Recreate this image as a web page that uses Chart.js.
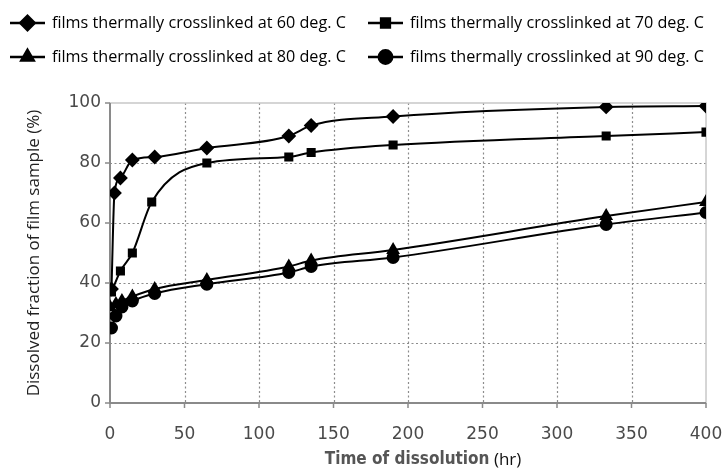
<!DOCTYPE html>
<html><head><meta charset="utf-8">
<script src="https://cdn.jsdelivr.net/npm/chart.js@4/dist/chart.umd.min.js"></script>
<style>html,body{margin:0;padding:0;background:#fff}#wrap{width:726px;height:475px;position:relative}</style>
</head><body><div id="wrap"><canvas id="c" width="726" height="475"></canvas></div>
<script>
const seriesLabels = ["films thermally crosslinked at 60 deg. C","films thermally crosslinked at 70 deg. C","films thermally crosslinked at 80 deg. C","films thermally crosslinked at 90 deg. C"];
const x60 = [1, 3, 7, 15, 30, 65, 120, 135, 190, 333, 400];
const y60 = [38, 70, 75, 81, 82, 85, 89, 92.5, 95.5, 98.7, 99];
const x70 = [1, 7, 15, 28, 65, 120, 135, 190, 333, 400];
const y70 = [37, 44, 50, 67, 80, 82, 83.5, 86, 89, 90.3];
const x80 = [0, 4, 8, 15, 30, 65, 120, 135, 190, 333, 400];
const y80 = [32, 33, 34, 35.5, 38, 41, 45.5, 47.5, 51, 62.3, 67];
const x90 = [1, 4, 8, 15, 30, 65, 120, 135, 190, 333, 400];
const y90 = [25, 29, 32, 34, 36.5, 39.6, 43.5, 45.5, 48.5, 59.5, 63.5];
const xTicks = [0,50,100,150,200,250,300,350,400];
const yTicks = [0,20,40,60,80,100];
const xTitleMain = 'Time of dissolution';
const xTitleUnit = ' (hr)';
const yTitle = 'Dissolved fraction of film sample (%)';
const markers = ['rectRot','rect','triangle','circle'];
const radii = [6,5,6,5.5];

const pts = (xs, ys) => xs.map((x,i)=>({x, y: ys[i]}));
const data = [pts(x60,y60), pts(x70,y70), pts(x80,y80), pts(x90,y90)];

const FONT = "'Open Sans', sans-serif";
const TICKFONT = "'DejaVu Sans', sans-serif";
const BOLDCOND = "bold 17px 'DejaVu Sans Condensed', 'DejaVu Sans', sans-serif";

const framePlugin = {
  id: 'frame',
  beforeDatasetsDraw(chart) {
    const {ctx, chartArea: a, scales} = chart;
    ctx.save();
    ctx.strokeStyle = '#8c8c8c'; ctx.lineWidth = 1.2; ctx.setLineDash([2,2.5]);
    xTicks.forEach(v => { if (v===0||v===400) return; const p = Math.round(scales.x.getPixelForValue(v))+0.5; ctx.beginPath(); ctx.moveTo(p,a.top); ctx.lineTo(p,a.bottom); ctx.stroke(); });
    yTicks.forEach(v => { if (v===0||v===100) return; const p = Math.round(scales.y.getPixelForValue(v))+0.5; ctx.beginPath(); ctx.moveTo(a.left,p); ctx.lineTo(a.right,p); ctx.stroke(); });
    ctx.setLineDash([]);
    ctx.strokeStyle = '#c8c8c8'; ctx.lineWidth = 1.5;
    ctx.strokeRect(a.left, a.top, a.right-a.left, a.bottom-a.top);
    ctx.strokeStyle = '#8a8a8a'; ctx.lineWidth = 2;
    ctx.beginPath(); ctx.moveTo(a.left, a.top); ctx.lineTo(a.left, a.bottom); ctx.lineTo(a.right, a.bottom); ctx.stroke();
    ctx.lineWidth = 1.5;
    xTicks.forEach(v => { const p = scales.x.getPixelForValue(v); ctx.beginPath(); ctx.moveTo(p,a.bottom); ctx.lineTo(p,a.bottom+5); ctx.stroke(); });
    yTicks.forEach(v => { const p = scales.y.getPixelForValue(v); ctx.beginPath(); ctx.moveTo(a.left-5,p); ctx.lineTo(a.left,p); ctx.stroke(); });
    ctx.restore();
  },
  afterDraw(chart) {
    const {ctx, chartArea: a} = chart;
    ctx.save();
    const pos = [[10,23],[368,23],[10,57],[368,57]];
    chart.data.datasets.forEach((ds,i) => {
      const [x0,y0] = pos[i];
      ctx.strokeStyle = '#000'; ctx.lineWidth = 2.5;
      ctx.beginPath(); ctx.moveTo(x0,y0); ctx.lineTo(x0+35,y0); ctx.stroke();
      ctx.fillStyle = '#000';
      Chart.helpers.drawPoint(ctx, {pointStyle: markers[i], radius: radii[i]+1.2, borderWidth: 1}, x0+17.5, y0);
      ctx.fillStyle = '#000';
      ctx.font = "16.2px " + FONT;
      ctx.textBaseline = 'middle'; ctx.textAlign = 'left';
      ctx.fillText(ds.label, x0+42, y0);
    });
    ctx.textBaseline = 'middle'; ctx.textAlign = 'left';
    ctx.font = BOLDCOND;
    const w1 = ctx.measureText(xTitleMain).width;
    ctx.font = "17px " + FONT;
    const w2 = ctx.measureText(xTitleUnit).width;
    const cx = (a.left + a.right) / 2 + 15;
    const sx = cx - (w1 + w2) / 2;
    ctx.font = BOLDCOND;
    ctx.fillStyle = '#555';
    ctx.fillText(xTitleMain, sx, 460);
    ctx.font = "17px " + FONT;
    ctx.fillStyle = '#111';
    ctx.fillText(xTitleUnit, sx + w1, 460);
    ctx.restore();
  }
};

new Chart(document.getElementById('c'), {
  type: 'scatter',
  data: {
    datasets: data.map((d,i) => ({
      label: seriesLabels[i], data: d, showLine: true,
      borderColor: '#000', backgroundColor: '#000', borderWidth: 2,
      pointStyle: markers[i], pointRadius: radii[i], pointHoverRadius: radii[i],
      pointBackgroundColor: '#000', pointBorderColor: '#000',
      cubicInterpolationMode: 'monotone'
    }))
  },
  options: {
    responsive: false, animation: false, devicePixelRatio: 1,
    layout: {padding: {top: 103, right: 20, left: 24, bottom: 0}},
    plugins: {legend: {display: false}, tooltip: {enabled: false}},
    scales: {
      x: {
        type: 'linear', min: 0, max: 400,
        afterBuildTicks: s => { s.ticks = xTicks.map(v => ({value: v})); },
        afterFit: s => { s.height = 72; s.paddingRight = 0; s.paddingLeft = 0; },
        grid: {display: false}, border: {display: false},
        ticks: {color: '#4a4a4a', font: {family: TICKFONT, size: 17}, padding: 13, maxRotation: 0},
        title: {display: false}
      },
      y: {
        type: 'linear', min: 0, max: 100,
        afterBuildTicks: s => { s.ticks = yTicks.map(v => ({value: v})); },
        afterFit: s => { s.width = 86; s.paddingTop = 0; s.paddingBottom = 0; },
        grid: {display: false, drawTicks: false}, border: {display: false},
        ticks: {color: '#4a4a4a', font: {family: TICKFONT, size: 17}, padding: 9},
        title: {display: true, text: yTitle, color: '#222', font: {family: FONT, size: 17}, padding: {top: 0, bottom: 4}}
      }
    }
  },
  plugins: [framePlugin]
});
</script></body></html>
